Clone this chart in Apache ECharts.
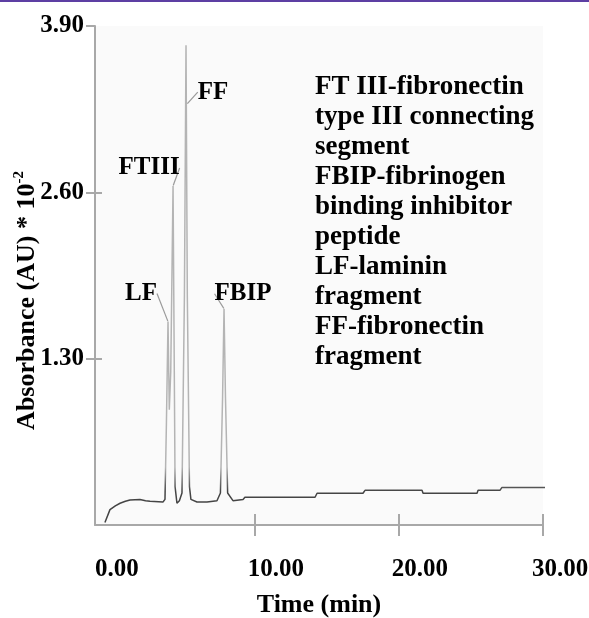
<!DOCTYPE html>
<html>
<head>
<meta charset="utf-8">
<script src="https://cdn.jsdelivr.net/npm/echarts@6/dist/echarts.min.js"></script>
<style>
  html, body { margin: 0; padding: 0; background: #ffffff; }
  #chart { width: 589px; height: 618px; }
</style>
</head>
<body>
<div id="chart"></div>
<script>
// ---- data ----
const time = [-0.42, -0.07, 0.30, 0.63, 1.00, 1.32, 2.01, 2.40, 2.71, 3.61,
  3.75, 3.85, 3.96, 4.05, 4.15, 4.31, 4.45, 4.58, 4.75,
  4.93, 5.10, 5.21, 5.30, 5.45, 5.55, 5.97, 6.67, 7.36,
  7.60, 7.75, 7.85, 7.95, 8.10, 8.47, 9.17,
  9.30, 14.17, 14.31, 17.50, 17.64, 21.60, 21.67, 25.42, 25.49, 27.01, 27.15, 30.63];
const absorbance = [0.02, 0.12, 0.15, 0.17, 0.185, 0.195, 0.20, 0.19, 0.185, 0.18,
  0.20, 0.80, 1.59, 0.90, 1.20, 2.65, 0.30, 0.17, 0.19,
  0.25, 1.80, 3.75, 1.80, 0.30, 0.20, 0.18, 0.18, 0.19,
  0.25, 1.00, 1.69, 1.00, 0.25, 0.19, 0.20,
  0.217, 0.217, 0.248, 0.248, 0.271, 0.271, 0.248, 0.248, 0.271, 0.271, 0.294, 0.294];

const xTickValues = [0, 10, 20, 30];
const xTickLabels = ['0.00', '10.00', '20.00', '30.00'];
const yTickValues = [1.3, 2.6, 3.9];
const yTickLabels = ['1.30', '2.60', '3.90'];

const peakNames = ['LF', 'FTIII', 'FF', 'FBIP'];
const peakTime = [3.96, 4.31, 5.28, 7.85];
const peakValue = [1.59, 2.65, 3.29, 1.69];

const noteLines = [
  'FT III-fibronectin',
  'type III connecting',
  'segment',
  'FBIP-fibrinogen',
  'binding inhibitor',
  'peptide',
  'LF-laminin',
  'fragment',
  'FF-fibronectin',
  'fragment'
];

const xAxisTitle = 'Time (min)';
const yAxisTitle = 'Absorbance (AU) * 10{sup|-2}';

// ---- presentation ----
const FONT = 'Liberation Serif';
const AXIS_GREY = '#a8a8a8';
const labelOffsets = { LF: [-27, -28], FTIII: [-24, -18], FF: [26, -12], FBIP: [19, -15] };
const xLabelShift = ['a', 'b', 'b', 'c'];

const chart = echarts.init(document.getElementById('chart'), null, { renderer: 'canvas' });

const tickFont = { fontFamily: FONT, fontWeight: 'bold', fontSize: 25, color: '#000' };

const option = {
  backgroundColor: '#ffffff',
  animation: false,
  grid: {
    left: 95, right: 46, top: 26, bottom: 93,
    containLabel: false, outerBoundsMode: 'none',
    show: true, backgroundColor: '#fafafa', borderWidth: 0
  },
  xAxis: [{
    type: 'value', min: -1.11, max: 30, position: 'bottom',
    splitLine: { show: false },
    axisLine: { show: true, onZero: false, lineStyle: { color: AXIS_GREY, width: 2 } },
    axisTick: { show: true, customValues: xTickValues.filter(v => v > 0), length: 11, lineStyle: { color: AXIS_GREY, width: 2 } },
    axisLabel: Object.assign({
      show: true, customValues: xTickValues, margin: 32, hideOverlap: false,
      formatter: function (v) {
        const i = xTickValues.indexOf(v);
        if (i < 0) return '';
        return '{' + xLabelShift[i] + '|' + xTickLabels[i] + '}';
      },
      rich: {
        a: Object.assign({ padding: [0, 0, 0, 12] }, tickFont),
        b: Object.assign({ padding: [0, 0, 0, 42] }, tickFont),
        c: Object.assign({ padding: [0, 0, 0, 34] }, tickFont)
      }
    }, tickFont),
    name: xAxisTitle, nameLocation: 'middle', nameGap: 67,
    nameTextStyle: { fontFamily: FONT, fontWeight: 'bold', fontSize: 26, color: '#000' }
  }, {
    type: 'value', min: -1.11, max: 30, position: 'bottom',
    splitLine: { show: false },
    axisLine: { show: false, onZero: false },
    axisTick: { show: true, inside: true, customValues: xTickValues.filter(v => v > 0), length: 11, lineStyle: { color: AXIS_GREY, width: 2 } },
    axisLabel: { show: false }
  }],
  yAxis: [{
    type: 'value', min: 0, max: 3.9, interval: 1.3, position: 'left',
    splitLine: { show: false },
    axisLine: { show: true, onZero: false, lineStyle: { color: AXIS_GREY, width: 2 } },
    axisTick: { show: true, customValues: yTickValues, length: 9, lineStyle: { color: AXIS_GREY, width: 2 } },
    axisLabel: Object.assign({
      show: true, customValues: yTickValues, margin: 11,
      formatter: function (v) {
        const i = yTickValues.findIndex(t => Math.abs(t - v) < 1e-6);
        return i >= 0 ? yTickLabels[i] : '';
      }
    }, tickFont),
    name: yAxisTitle, nameLocation: 'middle', nameGap: 53, nameRotate: 90,
    nameMoveOverlap: false,
    nameTextStyle: {
      fontFamily: FONT, fontWeight: 'bold', fontSize: 26, color: '#000',
      padding: [0, 50, 0, 0],
      rich: { sup: { fontFamily: FONT, fontWeight: 'bold', fontSize: 15, color: '#000', verticalAlign: 'top', lineHeight: 30 } }
    }
  }, {
    type: 'value', min: 0, max: 3.9, interval: 1.3, position: 'left',
    splitLine: { show: false },
    axisLine: { show: false, onZero: false },
    axisTick: { show: true, inside: true, customValues: yTickValues.slice(0, 2), length: 7, lineStyle: { color: AXIS_GREY, width: 2 } },
    axisLabel: { show: false }
  }],
  series: [{
    type: 'line',
    xAxisIndex: 0, yAxisIndex: 0,
    data: time.map((t, i) => [t, absorbance[i]]),
    showSymbol: false, symbol: 'none', clip: false, smooth: false,
    lineStyle: {
      width: 1.5,
      color: new echarts.graphic.LinearGradient(0, 0, 0, 1, [
        { offset: 0, color: '#b4b4b4' },
        { offset: 0.88, color: '#b4b4b4' },
        { offset: 0.93, color: '#444444' },
        { offset: 1, color: '#444444' }
      ])
    },
    z: 3
  }, {
    type: 'scatter',
    xAxisIndex: 0, yAxisIndex: 0,
    data: peakNames.map((n, i) => ({ name: n, value: [peakTime[i], peakValue[i]] })),
    symbol: 'circle', symbolSize: 1,
    itemStyle: { color: 'rgba(255,255,255,0)' },
    label: {
      show: true, position: 'inside', formatter: '{b}',
      fontFamily: FONT, fontWeight: 'bold', fontSize: 25, color: '#000000',
      opacity: 1, textBorderWidth: 0
    },
    emphasis: { disabled: true },
    labelLayout: function (p) {
      const o = labelOffsets[peakNames[p.dataIndex]];
      return { dx: o[0], dy: o[1] };
    },
    labelLine: { show: true, lineStyle: { color: '#9a9a9a', width: 1.2 } },
    z: 5
  }],
  graphic: [
    { type: 'rect', left: 0, top: 0, shape: { width: 589, height: 2 }, style: { fill: '#5d3fa3' } },
    {
      type: 'text', left: 315, top: 72,
      style: {
        text: noteLines.join('\n'),
        fontFamily: FONT, fontWeight: 'bold', fontSize: 27, lineHeight: 30, fill: '#000'
      }
    }
  ]
};

chart.setOption(option);
</script>
</body>
</html>
